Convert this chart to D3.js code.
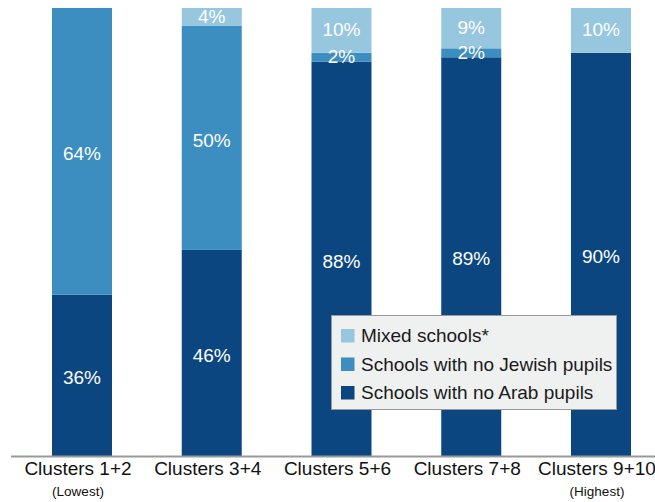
<!DOCTYPE html>
<html>
<head>
<meta charset="utf-8">
<script src="https://cdn.jsdelivr.net/npm/d3@7"></script>
<style>
  html, body { margin: 0; padding: 0; background: #fff; }
  svg { display: block; font-family: "Liberation Sans", Arial, sans-serif; }
</style>
</head>
<body>
<svg id="chart" width="655" height="502"></svg>
<script>
const categories = ["Clusters 1+2", "Clusters 3+4", "Clusters 5+6", "Clusters 7+8", "Clusters 9+10"];
const subLabels = ["(Lowest)", "", "", "", "(Highest)"];
const seriesNames = ["Schools with no Arab pupils", "Schools with no Jewish pupils", "Mixed schools*"];
const noArab = [36, 46, 88, 89, 90];
const noJewish = [64, 50, 2, 2, 0];
const mixed = [0, 4, 10, 9, 10];
const colors = ["#0c4680", "#3d8ec0", "#97c7df"];

const svg = d3.select("#chart");
const rows = categories.map((c, i) => ({ cat: c, s0: noArab[i], s1: noJewish[i], s2: mixed[i] }));
const stack = d3.stack().keys(["s0", "s1", "s2"]);
const series = stack(rows);

const x = d3.scaleBand().domain(categories).range([52, 631]).paddingInner(0.5376).paddingOuter(0);
const y = d3.scaleLinear().domain([0, 100]).range([456, 8]);

const g = svg.append("g");
series.forEach((s, si) => {
  g.selectAll(null).data(s).enter().append("rect")
    .attr("x", d => x(d.data.cat))
    .attr("width", x.bandwidth())
    .attr("y", d => y(d[1]))
    .attr("height", d => y(d[0]) - y(d[1]))
    .attr("fill", colors[si]);
});
series.forEach((s, si) => {
  g.selectAll(null).data(s.filter(d => d[1] - d[0] > 0)).enter().append("text")
    .attr("x", d => x(d.data.cat) + x.bandwidth() / 2)
    .attr("y", d => (y(d[0]) + y(d[1])) / 2)
    .attr("dy", (d) => (d[1] - d[0]) > 20 ? "0.46em" : "0.3em")
    .attr("text-anchor", "middle")
    .attr("fill", "#ffffff")
    .attr("font-size", 19)
    .text(d => (d[1] - d[0]) + "%");
});

// axis line
svg.append("line").attr("x1", 11).attr("x2", 655).attr("y1", 456.5).attr("y2", 456.5)
  .attr("stroke", "#999").attr("stroke-width", 2);

// category labels
categories.forEach((c, i) => {
  const cx = x(c) + x.bandwidth() / 2 - 4;
  svg.append("text").attr("x", cx).attr("y", 475).attr("text-anchor", "middle")
    .attr("font-size", 19).attr("fill", "#111").text(c);
  if (subLabels[i]) {
    svg.append("text").attr("x", cx).attr("y", 496).attr("text-anchor", "middle")
      .attr("font-size", 13.5).attr("fill", "#111").text(subLabels[i]);
  }
});

// legend
const lg = svg.append("g");
lg.append("rect").attr("x", 331.5).attr("y", 315.5).attr("width", 285).attr("height", 94)
  .attr("fill", "#eff0f0").attr("stroke", "#999").attr("stroke-width", 1);
const legendOrder = [2, 1, 0];
legendOrder.forEach((si, k) => {
  const cy = 335.5 + k * 28.5;
  lg.append("rect").attr("x", 341).attr("y", cy - 6.5).attr("width", 13.5).attr("height", 13.5)
    .attr("fill", colors[si]);
  lg.append("text").attr("x", 361).attr("y", cy).attr("dy", "0.36em")
    .attr("font-size", 19).attr("fill", "#1a1a1a").text(seriesNames[si]);
});
</script>
</body>
</html>
